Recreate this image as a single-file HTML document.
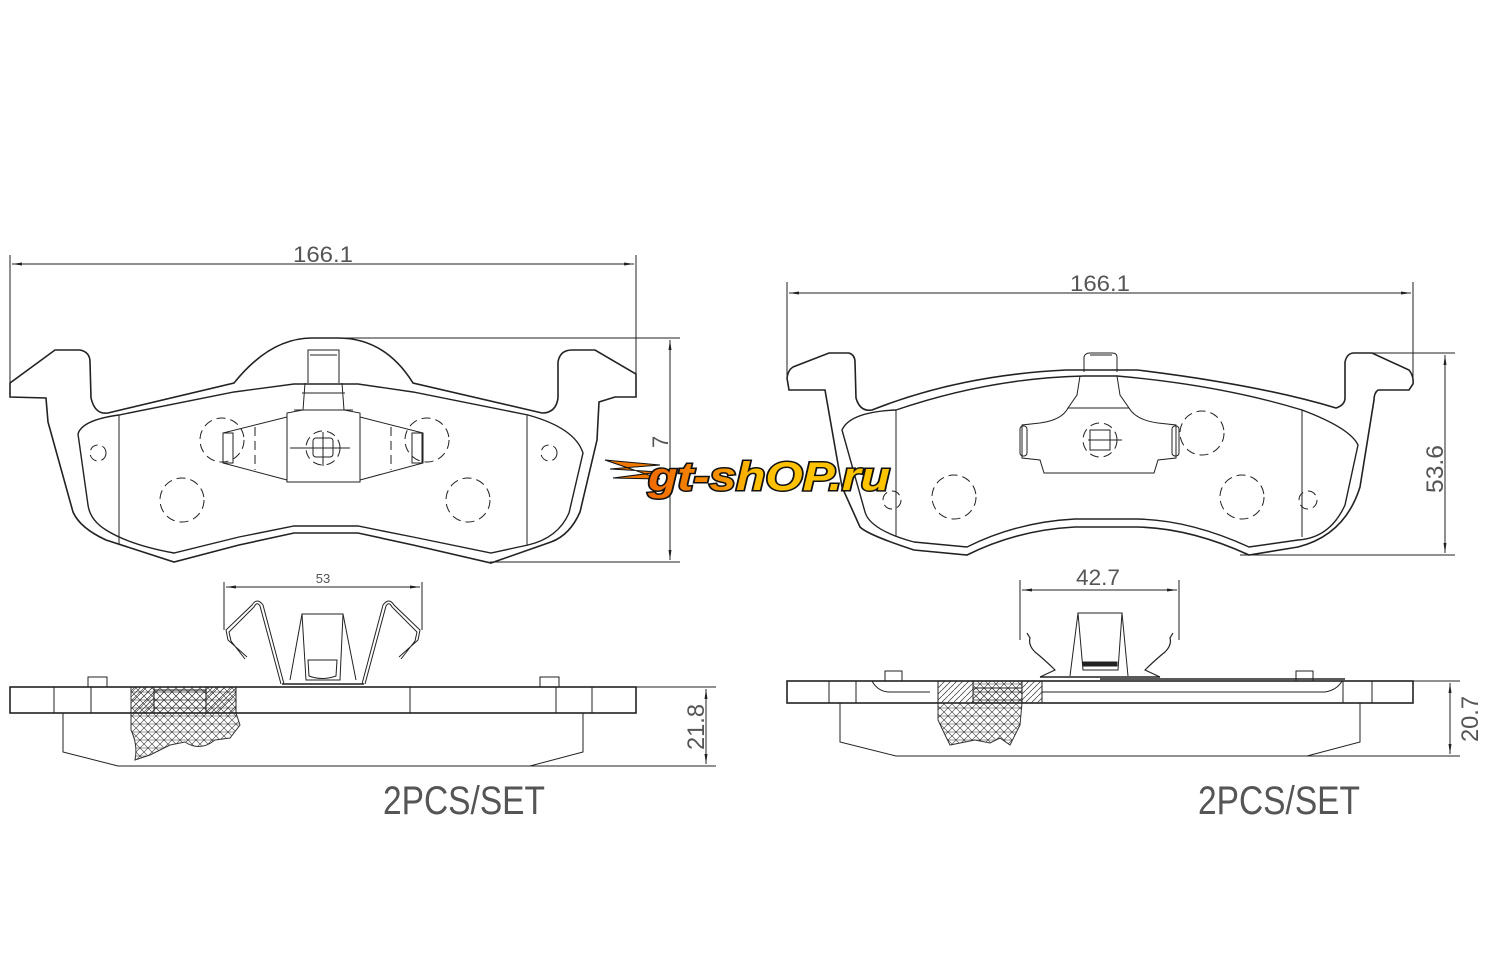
<!DOCTYPE html>
<html><head><meta charset="utf-8"><style>
html,body{margin:0;padding:0;background:#fff;}
svg{display:block}
text{font-family:"Liberation Sans",sans-serif;}
</style></head><body>
<svg width="1500" height="954" viewBox="0 0 1500 954" xmlns="http://www.w3.org/2000/svg">
<defs>
<pattern id="xh" width="8" height="8" patternUnits="userSpaceOnUse">
<path d="M0 0L8 8M8 0L0 8M0 4H8" stroke="#333" stroke-width="0.6"/>
</pattern>
<pattern id="dh" width="6" height="6" patternUnits="userSpaceOnUse">
<path d="M0 6L6 0" stroke="#333" stroke-width="0.7"/>
</pattern>
<linearGradient id="lg" x1="0" x2="1" y1="0" y2="0">
<stop offset="0" stop-color="#f06a00"/><stop offset="0.3" stop-color="#f59000"/><stop offset="0.45" stop-color="#ffc000"/><stop offset="1" stop-color="#ffc400"/>
</linearGradient>
<marker id="ar" markerWidth="10" markerHeight="6" refX="10" refY="3" orient="auto-start-reverse" markerUnits="userSpaceOnUse">
<path d="M0 1.5L10 3L0 4.5Z" fill="#222"/>
</marker>
</defs>
<g fill="none" stroke="#222" stroke-width="1">
<!-- LEFT TOP -->
<line x1="10" y1="255" x2="10" y2="390"/>
<line x1="636" y1="255" x2="636" y2="390"/>
<line x1="12" y1="264" x2="634" y2="264" marker-start="url(#ar)" marker-end="url(#ar)"/>
<line x1="310" y1="338" x2="680" y2="338"/>
<line x1="490" y1="562" x2="680" y2="562"/>
<line x1="670" y1="340" x2="670" y2="560" marker-start="url(#ar)" marker-end="url(#ar)"/>
<path stroke-width="1.6" d="M10 397 L10 383 L55 350 L80 350 Q90 352 90 362 L91 398 Q95 415 108 413 L234 383 Q270 338 312 338 L338 338 Q385 338 413 383 L542 413 Q556 413 558 398 L558 362 Q560 350 572 350 L595 350 L636 374 L636 397 L615 397 L599 402 L597 440 L580 512 Q570 535 551 542 L491 563 L413 545 L358 533 L294 533 L239 545 L174 562 L106 540 Q80 528 73 512 L48 422 L46 398 Z"/>
<path stroke-width="1.4" d="M78 434 Q82 420 119 415 L234 392 L294 384 L358 384 L413 392 L528 415 Q575 428 583 453 L569 513 Q558 538 528 545 L491 553 L413 537 L358 526 L294 526 L239 537 L174 553 Q130 545 106 530 Q90 520 88 505 Z"/>
<line x1="119" y1="415" x2="119" y2="545"/>
<line x1="527" y1="415" x2="527" y2="545"/>
<path d="M308 383 L308 350 L339 350 L339 383"/>
<line x1="310" y1="355" x2="337" y2="355"/>
<path d="M305 383 L303 410 L287 413 L287 482 L360 482 L360 413 L344 410 L342 383"/>
<line x1="302" y1="393" x2="345" y2="393"/>
<line x1="294" y1="410" x2="353" y2="410"/>
<path d="M287 417 L223 433 L223 463 L287 480"/>
<path d="M360 417 L423 433 L423 463 L360 480"/>
<rect x="223" y="433" width="10" height="30"/>
<rect x="412" y="433" width="10" height="30"/>
<rect x="313" y="438" width="20" height="19" rx="3"/>
<line x1="290" y1="448" x2="350" y2="448"/>
<line x1="323" y1="432" x2="323" y2="466"/>
<g stroke-dasharray="9 5">
<line x1="255" y1="427" x2="255" y2="470"/>
<line x1="391" y1="427" x2="391" y2="470"/>
<circle cx="323" cy="448" r="17"/>
<circle cx="222" cy="440" r="22"/>
<circle cx="427" cy="440" r="22"/>
<circle cx="182" cy="500" r="22"/>
<circle cx="468" cy="500" r="22"/>
<circle cx="98" cy="453" r="8"/>
<circle cx="549" cy="453" r="8"/>
</g>
<!-- LEFT SIDE -->
<line x1="224" y1="582" x2="224" y2="630"/>
<line x1="422" y1="582" x2="422" y2="630"/>
<line x1="226" y1="587" x2="420" y2="587" marker-start="url(#ar)" marker-end="url(#ar)"/>
<path d="M90 713 L63 713 L63 752 L118 766 L530 766 L583 752 L583 713"/>
<path d="M131 687 L131 730 Q138 745 135 760 L150 755 L170 745 L185 742 Q200 752 215 740 L230 738 L240 725 L236 713 L236 687 Z" fill="url(#xh)" stroke="#333"/>
<path d="M131 687 L154 687 L154 713 L236 713 L236 687 L206 687 L206 713 L154 713" fill="none"/>
<rect x="131" y="687" width="23" height="26" fill="url(#dh)" stroke="none"/>
<rect x="206" y="687" width="30" height="26" fill="url(#dh)" stroke="none"/>
<rect x="154" y="690" width="52" height="23" fill="url(#xh)" stroke="#222"/>
<rect x="10" y="687" width="626" height="26" stroke-width="1.6"/>
<line x1="54" y1="687" x2="54" y2="713"/>
<line x1="91" y1="687" x2="91" y2="713"/>
<line x1="410" y1="687" x2="410" y2="713"/>
<line x1="556" y1="687" x2="556" y2="713"/>
<line x1="592" y1="687" x2="592" y2="713"/>
<rect x="88" y="677" width="19" height="10"/>
<rect x="540" y="677" width="19" height="10"/>
<line x1="636" y1="687" x2="716" y2="687"/>
<line x1="530" y1="766" x2="716" y2="766"/>
<line x1="706" y1="689" x2="706" y2="764" marker-start="url(#ar)" marker-end="url(#ar)"/>
<g stroke-width="1">
<path d="M284 684 L263 605 Q257 597 252 605 L226 630 L228 640 L247 657 M281 684 L260 606 Q257 601 254 607 L229 632 L231 641 L245 659"/>
<path d="M362 684 L383 605 Q389 597 394 605 L420 630 L418 640 L399 657 M365 684 L386 606 Q389 601 392 607 L417 632 L415 641 L401 659"/>
</g>
<path d="M282 684 L364 684" stroke-width="1.6"/>
<path d="M302 614 L343 614 L340 680 L306 680 Z"/>
<path d="M302 614 L290 680 M343 614 L356 680"/>
<path d="M308 660 L337 660 L336 676 Q322 681 309 676 Z"/>
<!-- RIGHT TOP -->
<line x1="787" y1="282" x2="787" y2="378"/>
<line x1="1413" y1="282" x2="1413" y2="378"/>
<line x1="789" y1="293" x2="1411" y2="293" marker-start="url(#ar)" marker-end="url(#ar)"/>
<line x1="1360" y1="353" x2="1455" y2="353"/>
<line x1="1240" y1="555" x2="1455" y2="555"/>
<line x1="1445" y1="355" x2="1445" y2="553" marker-start="url(#ar)" marker-end="url(#ar)"/>
<path stroke-width="1.6" d="M789 390 L787 378 Q788 370 793 367 L829 353 L849 353 Q855 355 855 362 L856 398 Q860 412 872 410 Q960 375 1066 370 L1137 370 Q1260 385 1336 408 Q1345 405 1345 398 L1345 362 Q1347 353 1354 353 L1372 353 L1409 370 Q1414 376 1413 384 L1409 390 L1378 390 Q1374 393 1374 400 L1360 487 Q1345 535 1298 547 L1249 555 Q1190 528 1137 527 L1075 527 Q1017 530 967 555 L914 550 Q868 535 860 527 L842 487 L825 390 Z"/>
<path stroke-width="1.4" d="M842 430 Q850 412 896 410 Q990 378 1084 376 L1117 376 Q1220 385 1302 410 Q1350 428 1358 445 L1345 505 Q1330 538 1298 540 L1249 547 Q1190 520 1137 519 L1075 519 Q1017 522 967 547 L914 542 Q870 530 865 512 Z"/>
<line x1="896" y1="410" x2="896" y2="537"/>
<line x1="1302" y1="410" x2="1302" y2="537"/>
<path d="M1084 372 L1084 357 Q1085 353 1090 353 L1112 353 Q1117 353 1117 357 L1117 372"/>
<line x1="1090" y1="355" x2="1112" y2="355"/>
<path d="M1080 376 L1077 395 L1068 408 L1129 408 L1120 395 L1117 376"/>
<path d="M1068 408 Q1062 420 1040 423 L1022 425 L1022 458 L1040 460 L1044 473 L1154 473 L1158 460 L1176 458 L1176 425 L1158 423 Q1136 420 1129 408"/>
<rect x="1020" y="426" width="7" height="30" rx="3"/>
<rect x="1172" y="426" width="7" height="30" rx="3"/>
<rect x="1090" y="430" width="20" height="20"/>
<line x1="1088" y1="440" x2="1122" y2="440"/>
<g stroke-dasharray="9 5">
<circle cx="1100" cy="440" r="17"/>
<circle cx="954" cy="497" r="22"/>
<circle cx="1242" cy="497" r="22"/>
<circle cx="1202" cy="433" r="22"/>
<circle cx="1308" cy="500" r="9"/>
<circle cx="892" cy="500" r="9"/>
</g>
<!-- RIGHT SIDE -->
<line x1="1020" y1="580" x2="1020" y2="640"/>
<line x1="1179" y1="580" x2="1179" y2="640"/>
<line x1="1022" y1="590" x2="1177" y2="590" marker-start="url(#ar)" marker-end="url(#ar)"/>
<path d="M840 703 L840 742 L896 756 L1307 756 L1360 742 L1360 703"/>
<path d="M938 681 L938 720 Q945 735 950 745 L975 740 L990 743 L1000 738 L1010 745 L1020 725 L1022 703 L1022 681 Z" fill="url(#xh)" stroke="#333"/>
<rect x="938" y="681" width="35" height="22" fill="#fff"/>
<rect x="938" y="681" width="35" height="22" fill="url(#dh)"/>
<rect x="1022" y="681" width="20" height="22" fill="#fff"/>
<rect x="1022" y="681" width="20" height="22" fill="url(#dh)"/>
<rect x="973" y="688" width="49" height="15" fill="url(#xh)"/>
<rect x="787" y="681" width="626" height="22" stroke-width="1.6"/>
<path d="M872 681 Q878 692 890 692 L930 692 M1042 692 L1325 692 Q1337 690 1342 681"/>
<line x1="829" y1="681" x2="829" y2="703"/>
<line x1="856" y1="681" x2="856" y2="703"/>
<line x1="1343" y1="681" x2="1343" y2="703"/>
<line x1="1372" y1="681" x2="1372" y2="703"/>
<rect x="885" y="671" width="17" height="10"/>
<rect x="1296" y="671" width="17" height="10"/>
<line x1="1100" y1="679" x2="1345" y2="679" stroke-width="1.5"/>
<line x1="1413" y1="681" x2="1460" y2="681"/>
<line x1="1307" y1="756" x2="1460" y2="756"/>
<line x1="1450" y1="683" x2="1450" y2="754" marker-start="url(#ar)" marker-end="url(#ar)"/>
<path stroke-width="1.2" d="M1040 677 L1055 670 Q1045 660 1035 652 Q1028 645 1030 638 L1027 633 M1160 677 L1145 670 Q1155 660 1165 652 Q1172 645 1170 638 L1173 633"/>
<path stroke-width="1.6" d="M1040 677 L1160 677"/>
<path d="M1078 613 L1122 613 L1118 670 L1083 670 Z"/>
<path d="M1078 613 L1070 676 M1122 613 L1128 676"/>
<rect x="1083" y="662" width="34" height="4" fill="#222"/>
</g>
<g fill="#555" font-weight="300">
<text x="323" y="262" font-size="22" text-anchor="middle" textLength="60" lengthAdjust="spacingAndGlyphs">166.1</text>
<text x="1100" y="291" font-size="22" text-anchor="middle" textLength="60" lengthAdjust="spacingAndGlyphs">166.1</text>
<text x="323" y="583" font-size="13" text-anchor="middle">53</text>
<text x="1098" y="585" font-size="22" text-anchor="middle" textLength="44" lengthAdjust="spacingAndGlyphs">42.7</text>
<text transform="translate(668,448) rotate(-90)" font-size="22">7</text>
<text transform="translate(1443,493) rotate(-90)" font-size="24" textLength="48" lengthAdjust="spacingAndGlyphs">53.6</text>
<text transform="translate(704,750) rotate(-90)" font-size="24" textLength="46" lengthAdjust="spacingAndGlyphs">21.8</text>
<text transform="translate(1478,742) rotate(-90)" font-size="24" textLength="46" lengthAdjust="spacingAndGlyphs">20.7</text>
<text x="383" y="814" font-size="40" textLength="162" lengthAdjust="spacingAndGlyphs">2PCS/SET</text>
<text x="1198" y="814" font-size="40" textLength="162" lengthAdjust="spacingAndGlyphs">2PCS/SET</text>
</g>
<!-- logo -->
<g>
<path d="M605 460 L660 465 L610 469 L660 472 L613 478 L660 479 Z" fill="#f07800" stroke="#111" stroke-width="1"/>
<text x="648" y="490" font-size="40" font-weight="bold" font-style="italic" fill="url(#lg)" stroke="#111" stroke-width="3" paint-order="stroke" textLength="242" lengthAdjust="spacingAndGlyphs">gt-shOP.ru</text>
</g>
</svg>
</body></html>
